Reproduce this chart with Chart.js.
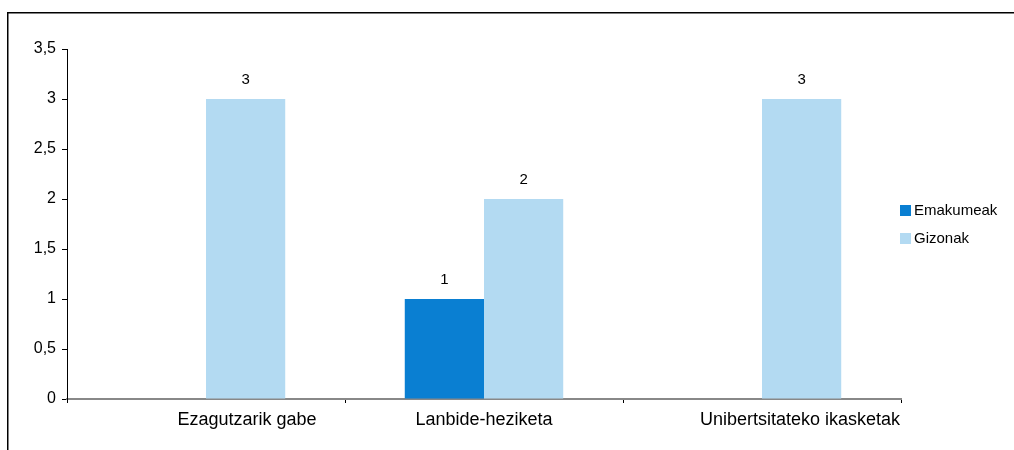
<!DOCTYPE html>
<html>
<head>
<meta charset="utf-8">
<script src="https://cdn.jsdelivr.net/npm/chart.js@4.4.0/dist/chart.umd.min.js"></script>
<style>
html,body{margin:0;padding:0;background:#fff;}
#wrap{width:1014px;height:450px;position:relative;}
</style>
</head>
<body>
<div id="wrap"><canvas id="c" width="1014" height="450"></canvas></div>
<script>
const categories = ["Ezagutzarik gabe", "Lanbide-heziketa", "Unibertsitateko ikasketak"];
const seriesNames = ["Emakumeak", "Gizonak"];
const emakumeak = [null, 1, null];
const gizonak = [3, 2, 3];
const yTicks = [0, 0.5, 1, 1.5, 2, 2.5, 3, 3.5];
const colors = ["#0a7fd2", "#b3daf2"];

const FONT = "'Liberation Sans', Arial, sans-serif";
// horizontal shift of each category label, as in the reference layout
const labelShift = [41, 0, 38];

const framePlugin = {
  id: 'frame',
  beforeDraw(chart) {
    const ctx = chart.ctx;
    ctx.save();
    ctx.fillStyle = '#fff';
    ctx.fillRect(0, 0, chart.width, chart.height);
    ctx.strokeStyle = '#000';
    ctx.lineWidth = 1.5;
    ctx.beginPath();
    ctx.moveTo(7.75, chart.height);
    ctx.lineTo(7.75, 12.75);
    ctx.lineTo(chart.width, 12.75);
    ctx.stroke();
    ctx.restore();
  }
};

const xLabelPlugin = {
  id: 'xlabels',
  afterDraw(chart) {
    const ctx = chart.ctx;
    const xs = chart.scales.x;
    ctx.save();
    ctx.font = '18px ' + FONT;
    ctx.fillStyle = '#000';
    ctx.textAlign = 'center';
    ctx.textBaseline = 'alphabetic';
    chart.data.labels.forEach((lab, i) => {
      ctx.fillText(lab, xs.getPixelForValue(i) + labelShift[i], xs.top + 26);
    });
    ctx.restore();
  }
};

const labelPlugin = {
  id: 'vlabels',
  afterDatasetsDraw(chart) {
    const ctx = chart.ctx;
    ctx.save();
    ctx.font = '15px ' + FONT;
    ctx.fillStyle = '#000';
    ctx.textAlign = 'center';
    ctx.textBaseline = 'alphabetic';
    chart.data.datasets.forEach((ds, i) => {
      const meta = chart.getDatasetMeta(i);
      meta.data.forEach((el, j) => {
        const v = ds.data[j];
        if (v === null || v === undefined) return;
        ctx.fillText(String(v).replace('.', ','), el.x, el.y - 15);
      });
    });
    ctx.restore();
  }
};

const legendPlugin = {
  id: 'customLegend',
  afterDraw(chart) {
    const ctx = chart.ctx;
    ctx.save();
    ctx.font = '15px ' + FONT;
    ctx.textBaseline = 'middle';
    ctx.textAlign = 'left';
    chart.data.datasets.forEach((ds, i) => {
      const y = 210.5 + i * 28;
      ctx.fillStyle = ds.backgroundColor;
      ctx.fillRect(900, y - 5.5, 11, 11);
      ctx.fillStyle = '#000';
      ctx.fillText(ds.label, 914, y + 0.5);
    });
    ctx.restore();
  }
};

new Chart(document.getElementById('c'), {
  type: 'bar',
  data: {
    labels: categories,
    datasets: [
      { label: seriesNames[0], data: emakumeak, backgroundColor: colors[0], borderWidth: 0 },
      { label: seriesNames[1], data: gizonak, backgroundColor: colors[1], borderWidth: 0 }
    ]
  },
  options: {
    responsive: false,
    animation: false,
    devicePixelRatio: 1,
    layout: { padding: { left: 0, right: 113, top: 49, bottom: 0 } },
    datasets: { bar: { categoryPercentage: 0.57, barPercentage: 1.0 } },
    plugins: { legend: { display: false }, tooltip: { enabled: false } },
    scales: {
      x: {
        offset: true,
        grid: { display: true, offset: true, drawOnChartArea: false, tickLength: 4, color: '#000', tickColor: '#000', lineWidth: 1 },
        border: { display: true, color: '#888', width: 2 },
        ticks: { display: false, autoSkip: false },
        afterFit(scale) { scale.height = 51; }
      },
      y: {
        min: 0, max: 3.5,
        afterBuildTicks(scale) { scale.ticks = yTicks.map(v => ({ value: v })); },
        grid: { display: true, drawOnChartArea: false, tickLength: 5, color: '#000', tickColor: '#000' },
        border: { display: true, color: '#000', width: 1 },
        ticks: {
          color: '#000', font: { family: FONT, size: 16 }, padding: 6,
          callback: v => String(v).replace('.', ',')
        },
        afterFit(scale) { scale.width = 67; }
      }
    }
  },
  plugins: [framePlugin, xLabelPlugin, labelPlugin, legendPlugin]
});
</script>
</body>
</html>
